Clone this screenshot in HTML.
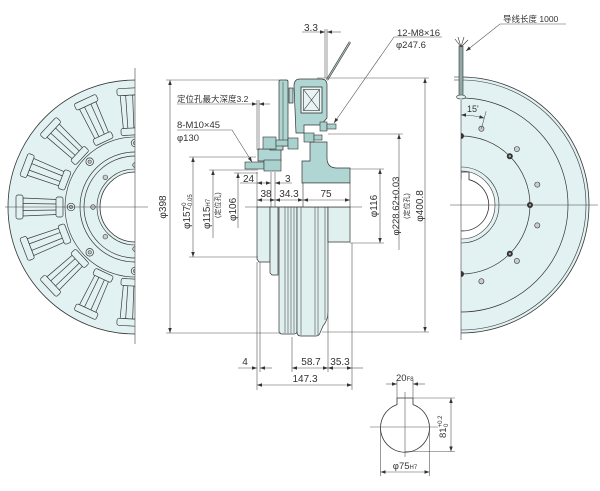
<!DOCTYPE html>
<html><head><meta charset="utf-8">
<style>
html,body{margin:0;padding:0;background:#fff;}
svg{display:block;}
text{font-family:"Liberation Sans","Noto Sans CJK SC",sans-serif;fill:#333;}
</style></head><body>
<svg width="600" height="491" viewBox="0 0 600 491" xmlns="http://www.w3.org/2000/svg">
<defs>
<marker id="ar" viewBox="0 0 10 10" refX="10" refY="5" markerWidth="5" markerHeight="5" markerUnits="userSpaceOnUse" orient="auto-start-reverse"><path d="M0,1.5 L10,5 L0,8.5Z" fill="#333"/></marker>
<clipPath id="cl"><rect x="0" y="0" width="135" height="491"/></clipPath>
<clipPath id="cr"><rect x="461" y="0" width="139" height="491"/></clipPath>
<g id="sp" fill="#e2f2f2" stroke="#3a3a3a" stroke-width="0.7">
<path d="M-112,-9 L-78,-7.5 L-78,7.5 L-112,9 Z"/>
<line x1="-112" y1="-3.5" x2="-78" y2="-3"/>
<line x1="-112" y1="3.5" x2="-78" y2="3"/>
<rect x="-119" y="-12" width="7" height="24" rx="2"/>
<rect x="-79" y="-10" width="7" height="20" rx="2"/>
</g>
<g id="bb"><circle r="3.8" fill="#e2f2f2" stroke="#333" stroke-width="0.7"/><circle r="1.8" fill="#bbb" stroke="#333" stroke-width="0.5"/></g>
</defs>

<!-- LEFT VIEW -->
<g clip-path="url(#cl)">
<circle cx="135" cy="207" r="127" fill="#e2f2f2" stroke="#333" stroke-width="0.8"/>
<use href="#sp" transform="translate(135,207) rotate(87)"/>
<use href="#sp" transform="translate(135,207) rotate(65)"/>
<use href="#sp" transform="translate(135,207) rotate(43)"/>
<use href="#sp" transform="translate(135,207) rotate(21)"/>
<use href="#sp" transform="translate(135,207) rotate(0)"/>
<use href="#sp" transform="translate(135,207) rotate(-21)"/>
<use href="#sp" transform="translate(135,207) rotate(-43)"/>
<use href="#sp" transform="translate(135,207) rotate(-65)"/>
<use href="#sp" transform="translate(135,207) rotate(-87)"/>
<circle cx="135" cy="207" r="70" fill="none" stroke="#333" stroke-width="0.6"/>
<circle cx="135" cy="207" r="55" fill="none" stroke="#333" stroke-width="0.7"/>
<circle cx="135" cy="207" r="51" fill="none" stroke="#333" stroke-width="0.7"/>
<circle cx="135" cy="207" r="38" fill="none" stroke="#333" stroke-width="0.6"/>
<circle cx="135" cy="207" r="35" fill="#fff" stroke="#333" stroke-width="0.8"/>
<use href="#bb" x="71" y="207"/>
<use href="#bb" x="89.7" y="161.7"/>
<use href="#bb" x="89.7" y="252.3"/>
<use href="#bb" x="135" y="143"/>
<use href="#bb" x="135" y="271"/>
<g fill="#ccc" stroke="#333" stroke-width="0.6">
<circle cx="93" cy="207" r="2.3"/><circle cx="105.3" cy="177.3" r="2.3"/><circle cx="105.3" cy="236.7" r="2.3"/>
<circle cx="135" cy="165" r="2.3"/><circle cx="135" cy="249" r="2.3"/>
</g>
</g>
<g stroke="#444" stroke-width="0.6">
<line x1="135" y1="68" x2="135" y2="344"/>
<line x1="5" y1="207" x2="148" y2="207"/>
</g>

<!-- MIDDLE VIEW: exterior lower half -->
<g fill="#dff0ef" stroke="#333" stroke-width="0.7">
<path d="M257,207 L270,207 L270,262 L259,262 L257,259 Z"/>
<path d="M270,207 H278 V275 H272 L270,273 Z"/>
<path d="M279,207 H297 V331 Q297,334 294,334 H282 Q279,334 279,331 Z"/>
<path d="M297,207 H328 V312 Q328,320 323,326 L320,333 Q319,336 316,336 H301 Q297,336 297,332 Z"/>
<path d="M328,207 H350 V242 H328 Z"/>
</g>
<g stroke="#333" stroke-width="0.5">
<line x1="285" y1="207" x2="285" y2="333"/><line x1="288" y1="207" x2="288" y2="333"/>
<line x1="291" y1="207" x2="291" y2="333"/><line x1="294" y1="207" x2="294" y2="333"/>
<line x1="301" y1="207" x2="301" y2="335"/><line x1="315" y1="207" x2="315" y2="335"/>
<line x1="318" y1="207" x2="318" y2="335"/><line x1="325" y1="207" x2="325" y2="320"/>
</g>

<!-- MIDDLE VIEW: section upper half -->
<g fill="#afd6d2" stroke="#333" stroke-width="0.7">
<rect x="279" y="80" width="9" height="66" rx="1.5"/>
<rect x="289" y="88" width="4" height="15"/>
<path d="M294,86 Q294,79 300,79 L321,79 Q327,79 327,85 L327,118 L321,125 L304,125 L304,133 L296,133 Z"/>
<path d="M310,142 L327,142 L327,158 Q327,168 337,168 L350,168 L350,183 L302,183 L302,161 L310,161 Z"/>
<rect x="258" y="149" width="23" height="12"/>
<rect x="270" y="144" width="13" height="6"/>
</g>
<line x1="283" y1="82" x2="283" y2="144" stroke="#333" stroke-width="0.5"/>
<rect x="303" y="183" width="47" height="24" fill="#fff" stroke="#333" stroke-width="0.6"/>
<rect x="301" y="87" width="21" height="26" fill="#e8f4f4" stroke="#333" stroke-width="0.8"/>
<rect x="303.5" y="89.5" width="16" height="21" fill="none" stroke="#333" stroke-width="0.6"/>
<line x1="303.5" y1="89.5" x2="319.5" y2="110.5" stroke="#333" stroke-width="0.6"/>
<line x1="319.5" y1="89.5" x2="303.5" y2="110.5" stroke="#333" stroke-width="0.6"/>
<!-- bolts -->
<g fill="#a9d2cf" stroke="#333" stroke-width="0.6">
<rect x="320" y="122" width="7" height="9"/><rect x="327" y="124" width="9" height="5"/>
<rect x="304" y="133" width="10" height="9"/><rect x="314" y="135" width="8" height="5"/>
<rect x="263" y="137" width="13" height="12"/><rect x="276" y="140" width="12" height="6"/><rect x="288" y="138" width="10" height="11"/>
<rect x="245" y="162" width="19" height="7"/><rect x="264" y="160" width="17" height="11"/>
</g>
<!-- lead wire -->
<line x1="327" y1="80" x2="350" y2="42" stroke="#444" stroke-width="2.2"/>
<line x1="327" y1="80" x2="350" y2="42" stroke="#b9d3d1" stroke-width="0.8"/>

<!-- dimensions middle -->
<g stroke="#555" stroke-width="0.6" fill="none">
<line x1="166" y1="80" x2="281" y2="80"/>
<line x1="166" y1="333" x2="281" y2="333"/>
<line x1="317" y1="78" x2="429" y2="78"/>
<line x1="322" y1="332" x2="429" y2="332"/>
<line x1="170" y1="80" x2="170" y2="333" marker-start="url(#ar)" marker-end="url(#ar)"/>
<line x1="425" y1="78" x2="425" y2="332" marker-start="url(#ar)" marker-end="url(#ar)"/>
<line x1="189" y1="157" x2="256" y2="157"/>
<line x1="189" y1="257" x2="258" y2="257"/>
<line x1="193" y1="157" x2="193" y2="257" marker-start="url(#ar)" marker-end="url(#ar)"/>
<line x1="209" y1="170" x2="258" y2="170"/>
<line x1="213" y1="170" x2="213" y2="238" marker-start="url(#ar)"/>
<line x1="234" y1="173" x2="258" y2="173"/>
<line x1="238" y1="173" x2="238" y2="228" marker-start="url(#ar)"/>
<line x1="257" y1="100" x2="257" y2="150"/>
<line x1="259" y1="100" x2="259" y2="150"/>
<line x1="257" y1="172" x2="257" y2="207"/>
<line x1="271" y1="172" x2="271" y2="207"/>
<line x1="275" y1="172" x2="275" y2="207"/>
<line x1="240" y1="183" x2="257" y2="183"/>
<line x1="257" y1="183" x2="271" y2="183" marker-start="url(#ar)" marker-end="url(#ar)"/>
<line x1="292" y1="183" x2="275" y2="183" marker-end="url(#ar)"/>
<line x1="257" y1="200" x2="275" y2="200" marker-start="url(#ar)" marker-end="url(#ar)"/>
<line x1="275" y1="200" x2="303" y2="200" marker-start="url(#ar)" marker-end="url(#ar)"/>
<line x1="303" y1="200" x2="350" y2="200" marker-start="url(#ar)" marker-end="url(#ar)"/>
<line x1="245" y1="207" x2="362" y2="207" stroke="#444"/>
<!-- bottom -->
<line x1="257" y1="262" x2="257" y2="390"/>
<line x1="260" y1="262" x2="260" y2="372"/>
<line x1="292" y1="337" x2="292" y2="372"/>
<line x1="328" y1="314" x2="328" y2="372"/>
<line x1="352" y1="243" x2="352" y2="390"/>
<line x1="238" y1="368" x2="257" y2="368" marker-end="url(#ar)"/>
<line x1="272" y1="368" x2="260" y2="368" marker-end="url(#ar)"/>
<line x1="292" y1="368" x2="328" y2="368" marker-start="url(#ar)" marker-end="url(#ar)"/>
<line x1="328" y1="368" x2="352" y2="368" marker-start="url(#ar)" marker-end="url(#ar)"/>
<line x1="352" y1="368" x2="363" y2="368"/>
<line x1="257" y1="385" x2="352" y2="385" marker-start="url(#ar)" marker-end="url(#ar)"/>
<!-- right -->
<line x1="350" y1="169" x2="384" y2="169"/>
<line x1="350" y1="243" x2="384" y2="243"/>
<line x1="380" y1="169" x2="380" y2="243" marker-start="url(#ar)" marker-end="url(#ar)"/>
<line x1="328" y1="134" x2="403" y2="134"/>
<line x1="399" y1="134" x2="399" y2="250" marker-start="url(#ar)"/>
<!-- top -->
<line x1="325" y1="29" x2="325" y2="78"/>
<line x1="327" y1="29" x2="327" y2="78"/>
<line x1="302" y1="32" x2="325" y2="32" marker-end="url(#ar)"/>
<line x1="341" y1="32" x2="327" y2="32" marker-end="url(#ar)"/>
<polyline points="442,37 394,37 334,123" marker-end="url(#ar)"/>
<line x1="177" y1="104" x2="257" y2="104" marker-end="url(#ar)"/>
<line x1="270" y1="104" x2="259" y2="104" marker-end="url(#ar)"/>
<polyline points="177,130 232,130 252,162" marker-end="url(#ar)"/>
</g>

<!-- RIGHT VIEW -->
<g clip-path="url(#cr)">
<circle cx="461" cy="205" r="128" fill="#e2f2f2" stroke="#333" stroke-width="0.8"/>
<circle cx="461" cy="205" r="125" fill="none" stroke="#333" stroke-width="0.6"/>
<circle cx="461" cy="205" r="107" fill="none" stroke="#333" stroke-width="0.7"/>
<circle cx="461" cy="205" r="69" fill="none" stroke="#333" stroke-width="0.7"/>
<circle cx="461" cy="205" r="38" fill="none" stroke="#333" stroke-width="0.6"/>
<circle cx="461" cy="205" r="34" fill="#fff" stroke="#333" stroke-width="0.6"/>
<path d="M461,172 L469,172 L469,179.7 A26,26 0 1,1 461,179 Z" fill="#fff" stroke="#333" stroke-width="0.8"/>
<g fill="#333"><circle cx="530" cy="205" r="3"/><circle cx="509.8" cy="156.2" r="3"/><circle cx="509.8" cy="253.8" r="3"/><circle cx="461" cy="136" r="3"/><circle cx="461" cy="274" r="3"/></g>
<g fill="#aaa"><circle cx="530" cy="205" r="1.2"/><circle cx="509.8" cy="156.2" r="1.2"/><circle cx="509.8" cy="253.8" r="1.2"/></g>
<g fill="#ccc" stroke="#333" stroke-width="0.6">
<circle cx="537.3" cy="184.6" r="2.6"/><circle cx="537.3" cy="225.4" r="2.6"/>
<circle cx="516.9" cy="149.1" r="2.6"/><circle cx="516.9" cy="260.9" r="2.6"/>
<circle cx="481.4" cy="128.7" r="2.6"/><circle cx="481.4" cy="281.3" r="2.6"/>
</g>
</g>
<g stroke="#444" stroke-width="0.6">
<line x1="461" y1="100" x2="461" y2="340"/>
<line x1="450" y1="205" x2="598" y2="205"/>
<line x1="454" y1="77" x2="461" y2="77"/>
<line x1="454" y1="80" x2="461" y2="80"/>
</g>
<rect x="459" y="46" width="4" height="51" fill="#8fa9a7" stroke="#333" stroke-width="0.6"/>
<ellipse cx="461" cy="97" rx="4.5" ry="2" fill="#e2f2f2" stroke="#333" stroke-width="0.6"/>
<g stroke="#333" stroke-width="0.6">
<line x1="461" y1="47" x2="455" y2="39"/><line x1="461" y1="47" x2="458" y2="37"/>
<line x1="461" y1="47" x2="464" y2="37"/><line x1="461" y1="47" x2="468" y2="40"/>
</g>
<g stroke="#555" stroke-width="0.6" fill="none">
<polyline points="566,24 500,24 466,51" marker-end="url(#ar)"/>
<path d="M461,115 A90,90 0 0,1 484.3,118.1" marker-start="url(#ar)" marker-end="url(#ar)"/>
<line x1="481.4" y1="128.7" x2="486.1" y2="111.3"/>
</g>

<!-- SHAFT SECTION -->
<path d="M397,398 L413,398 L413,404.6 A24.5,24.5 0 1,1 397,404.6 Z" fill="#fff" stroke="#333" stroke-width="0.8"/>
<g stroke="#555" stroke-width="0.6" fill="none">
<line x1="370" y1="427" x2="438" y2="427"/>
<line x1="405" y1="392" x2="405" y2="457"/>
<line x1="397" y1="380" x2="397" y2="398"/>
<line x1="413" y1="380" x2="413" y2="398"/>
<line x1="386" y1="384" x2="397" y2="384" marker-end="url(#ar)"/>
<line x1="425" y1="384" x2="413" y2="384" marker-end="url(#ar)"/>
<line x1="413" y1="398" x2="455" y2="398"/>
<line x1="405" y1="451.5" x2="455" y2="451.5"/>
<line x1="451" y1="398" x2="451" y2="451.5" marker-start="url(#ar)" marker-end="url(#ar)"/>
<line x1="380.5" y1="427" x2="380.5" y2="476"/>
<line x1="429.5" y1="427" x2="429.5" y2="476"/>
<line x1="380.5" y1="472" x2="429.5" y2="472" marker-start="url(#ar)" marker-end="url(#ar)"/>
</g>

<!-- TEXT -->
<g font-size="10">
<text transform="translate(166,207) rotate(-90)" text-anchor="middle">φ398</text>
<text transform="translate(190,229) rotate(-90)">φ157<tspan font-size="6" dy="-4">0</tspan></text>
<text transform="translate(190,229) rotate(-90)" x="21" y="2" font-size="6">-0.05</text>
<text transform="translate(210,229) rotate(-90)">φ115<tspan font-size="6">H7</tspan></text>
<text transform="translate(220,218) rotate(-90)" font-size="7">(定位孔)</text>
<text transform="translate(236,221) rotate(-90)">φ106</text>
<text x="243" y="182">24</text>
<text x="285" y="182">3</text>
<text x="266" y="197" text-anchor="middle">38</text>
<text x="289" y="197" text-anchor="middle">34.3</text>
<text x="326" y="197" text-anchor="middle">75</text>
<text transform="translate(377,206) rotate(-90)" text-anchor="middle">φ116</text>
<text transform="translate(399,206) rotate(-90)" text-anchor="middle" font-size="9.5">φ228.62±0.03</text>
<text transform="translate(409,206) rotate(-90)" text-anchor="middle" font-size="7">(定位孔)</text>
<text transform="translate(423,206) rotate(-90)" text-anchor="middle">φ400.8</text>
<text x="245" y="365" text-anchor="middle">4</text>
<text x="311" y="365" text-anchor="middle">58.7</text>
<text x="340" y="365" text-anchor="middle">35.3</text>
<text x="305" y="382" text-anchor="middle">147.3</text>
<text x="304" y="31">3.3</text>
<text x="397" y="36" font-size="9.5">12-M8×16</text>
<text x="396" y="48" font-size="9.5">φ247.6</text>
<text x="177" y="102" font-size="8.5">定位孔最大深度3.2</text>
<text x="177" y="128" font-size="9.5">8-M10×45</text>
<text x="177" y="141" font-size="9.5">φ130</text>
<text x="503" y="22" font-size="8.5">导线长度 1000</text>
<text x="467" y="112" font-size="9">15'</text>
<text x="396" y="381" font-size="9.5">20<tspan font-size="6">F8</tspan></text>
<text transform="translate(446,438) rotate(-90)" font-size="9.5">81<tspan font-size="6" dy="-4">+0.2</tspan></text>
<text transform="translate(446,438) rotate(-90)" x="11" y="2" font-size="6">0</text>
<text x="405" y="469" text-anchor="middle" font-size="9.5">φ75<tspan font-size="6">H7</tspan></text>
</g>
</svg>
</body></html>
